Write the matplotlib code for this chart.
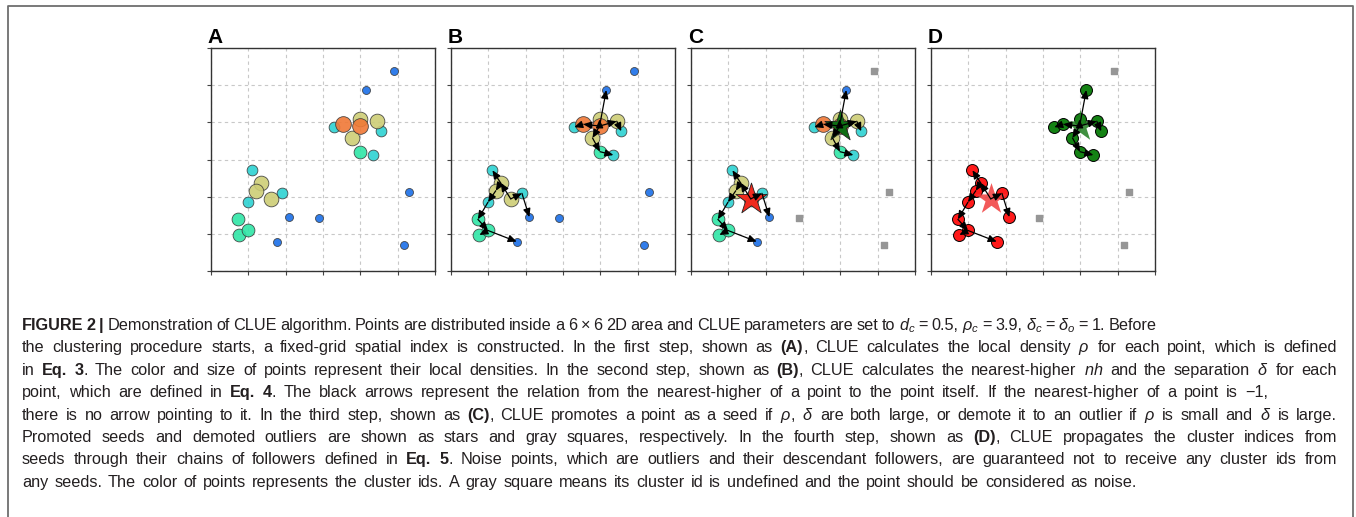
import re
import matplotlib
matplotlib.use('Agg')
import matplotlib.pyplot as plt
from matplotlib.lines import Line2D
from matplotlib.font_manager import FontProperties

plt.rcParams['font.family'] = ['Liberation Sans', 'DejaVu Sans']
plt.rcParams['mathtext.fontset'] = 'custom'
plt.rcParams['mathtext.rm'] = 'Liberation Sans'
plt.rcParams['mathtext.it'] = 'Liberation Sans:italic'
plt.rcParams['mathtext.bf'] = 'Liberation Sans:bold'

# point positions (data units, 6 x 6 area)
px = [4.89, 4.16, 5.31, 2.10, 2.89, 1.76, 5.16,
      3.30, 4.56, 4.35, 1.11, 1.90, 0.99,
      3.99, 0.72, 0.76, 0.99,
      3.98, 4.44, 3.79, 1.33, 1.20, 1.60,
      3.54, 3.98]
py = [5.38, 4.87, 2.13, 1.45, 1.42, 0.79, 0.69,
      3.87, 3.76, 3.12, 2.71, 2.09, 1.85,
      3.21, 1.39, 0.97, 1.09,
      4.08, 4.03, 3.58, 2.37, 2.16, 1.94,
      3.95, 3.90]
# density level of each point (0 = lowest)
level = [0, 0, 0, 0, 0, 0, 0,
         1, 1, 1, 1, 1, 1,
         2, 2, 2, 2,
         3, 3, 3, 3, 3, 3,
         4, 4]
# nearest-higher index (-1 = none)
nh = [-1, 24, -1, 11, -1, 16, -1,
      23, 18, 13, 20, 22, 21,
      19, 12, 16, 14,
      24, 24, 24, 22, 20, -1,
      24, -1]
# cluster id after propagation (-1 = noise)
cluster = [-1, 1, -1, 0, -1, 0, -1,
           1, 1, 1, 0, 0, 0,
           1, 0, 0, 0,
           1, 1, 1, 0, 0, 0,
           1, 1]
seeds = [22, 24]

level_colors = ['#1a6fe8', '#2dd2d2', '#30e6a6', '#cdcd76', '#f07836']
level_sizes = [33, 60, 85, 112, 128]
cluster_colors = ['#ff1a1a', '#148214']
star_colors_c = ['#f02a1e', '#0f6e14']
star_colors_d = ['#f03c3c', '#1e7d1e']

panel_letters = ['A', 'B', 'C', 'D']

caption = [
    "**FIGURE 2 |** Demonstration of CLUE algorithm. Points are distributed inside a 6 \u00d7 6 2D area and CLUE parameters are set to $d_c$ = 0.5, $\\rho_c$ = 3.9, $\\delta_c$ = $\\delta_o$ = 1. Before",
    "the clustering procedure starts, a fixed-grid spatial index is constructed. In the first step, shown as **(A)**, CLUE calculates the local density $\\rho$ for each point, which is defined",
    "in **Eq. 3**. The color and size of points represent their local densities. In the second step, shown as **(B)**, CLUE calculates the nearest-higher $nh$ and the separation $\\delta$ for each",
    "point, which are defined in **Eq. 4**. The black arrows represent the relation from the nearest-higher of a point to the point itself. If the nearest-higher of a point is \u22121,",
    "there is no arrow pointing to it. In the third step, shown as **(C)**, CLUE promotes a point as a seed if $\\rho$, $\\delta$ are both large, or demote it to an outlier if $\\rho$ is small and $\\delta$ is large.",
    "Promoted seeds and demoted outliers are shown as stars and gray squares, respectively. In the fourth step, shown as **(D)**, CLUE propagates the cluster indices from",
    "seeds through their chains of followers defined in **Eq. 5**. Noise points, which are outliers and their descendant followers, are guaranteed not to receive any cluster ids from",
    "any seeds. The color of points represents the cluster ids. A gray square means its cluster id is undefined and the point should be considered as noise.",
]
# right end (px) of each caption line in the original
line_ends = [1137, 1337, 1337, 1268, 1337, 1337, 1337, 1137]

W, H = 1356, 517
fig = plt.figure(figsize=(W / 100, H / 100), dpi=100)

# thin frame round the figure
fig.add_artist(Line2D([8 / W, 8 / W, 1353 / W, 1353 / W], [-0.01, 1 - 6 / H, 1 - 6 / H, -0.01],
                      transform=fig.transFigure, color='#6e6e6e', lw=1.3))


def setup(ax, letter):
    ax.set_xlim(0, 6)
    ax.set_ylim(0, 6)
    ax.set_xticks(range(7))
    ax.set_yticks(range(7))
    ax.set_xticklabels([])
    ax.set_yticklabels([])
    ax.grid(True, ls=(0, (3, 3)), color='#c8c8c8', lw=0.8)
    ax.set_axisbelow(True)
    ax.tick_params(length=3, width=0.8, color='#444444')
    for s in ax.spines.values():
        s.set_color('#333333')
        s.set_linewidth(1.0)
    ax.text(-0.014, 1.022, letter, transform=ax.transAxes, fontsize=15,
            fontweight='bold', ha='left', va='baseline')


def draw_arrows(ax):
    for i in range(len(px)):
        j = nh[i]
        if j < 0:
            continue
        ax.annotate('', xy=(px[i], py[i]), xytext=(px[j], py[j]),
                    arrowprops=dict(arrowstyle='-|>,head_length=0.5,head_width=0.22',
                                    color='black', lw=0.9, shrinkA=0, shrinkB=0),
                    zorder=5)


def draw_density(ax, skip_noise=False):
    for i in range(len(px)):
        if skip_noise and cluster[i] == -1:
            continue
        ax.scatter(px[i], py[i], s=level_sizes[level[i]], c=level_colors[level[i]],
                   edgecolors='#3a3a3a', linewidths=0.6, alpha=0.9, zorder=3)


def draw_noise(ax):
    nx = [px[i] for i in range(len(px)) if cluster[i] == -1]
    ny = [py[i] for i in range(len(py)) if cluster[i] == -1]
    ax.scatter(nx, ny, s=15, marker='s', c='#969696', zorder=3)


axes = []
for k in range(4):
    left = 211 + 240 * k
    ax = fig.add_axes([left / W, 246 / H, 224 / W, 223 / H])
    setup(ax, panel_letters[k])
    axes.append(ax)

# A: local density
draw_density(axes[0])

# B: nearest-higher arrows
draw_density(axes[1])
draw_arrows(axes[1])

# C: seeds and outliers
draw_density(axes[2], skip_noise=True)
draw_noise(axes[2])
for c, i in enumerate(seeds):
    axes[2].scatter(px[i], py[i], s=560, marker='*', c=star_colors_c[c],
                    edgecolors='#222222', linewidths=0.6, zorder=4)
draw_arrows(axes[2])

# D: cluster ids
for i in range(len(px)):
    if cluster[i] >= 0 and i not in seeds:
        axes[3].scatter(px[i], py[i], s=74, c=cluster_colors[cluster[i]],
                        edgecolors='black', linewidths=0.7, zorder=3)
draw_noise(axes[3])
for c, i in enumerate(seeds):
    axes[3].scatter(px[i], py[i], s=560, marker='*', c=star_colors_d[c],
                    alpha=0.85, linewidths=0, zorder=4)
draw_arrows(axes[3])

# caption, laid out word by word
renderer = fig.canvas.get_renderer()
cap_size = 11.7
reg = FontProperties(family='Liberation Sans', size=cap_size)
bold = FontProperties(family='Liberation Sans', weight='bold', size=cap_size)


def adv(text, style):
    if style == 'm':
        return renderer.get_text_width_height_descent(text, reg, ismath=True)[0]
    prop = bold if style == 'b' else reg
    w1 = renderer.get_text_width_height_descent('x' + text + 'x', prop, ismath=False)[0]
    w0 = renderer.get_text_width_height_descent('xx', prop, ismath=False)[0]
    return w1 - w0


def split_words(line):
    words = [[]]
    for part in re.split(r'(\*\*.*?\*\*|\$.*?\$)', line):
        if not part:
            continue
        if part.startswith('$'):
            words[-1].append((part, 'm'))
            continue
        style = 'r'
        if part.startswith('**'):
            style = 'b'
            part = part[2:-2]
        pieces = part.split(' ')
        for n, p in enumerate(pieces):
            if n > 0:
                words.append([])
            if p:
                words[-1].append((p, style))
    return [w for w in words if w]


space = adv(' ', 'r')
x0 = 22
for k, line in enumerate(caption):
    words = split_words(line)
    widths = [sum(adv(t, s) for t, s in w) for w in words]
    gap = (line_ends[k] - x0 - sum(widths)) / (len(words) - 1)
    # do not squeeze the words together too much
    gap = max(gap, 0.75 * space)
    x = x0
    yb = H - (330 + 22.4 * k)
    for w, ww in zip(words, widths):
        xs = x
        for t, s in w:
            fig.text(xs / W, yb / H, t, fontsize=cap_size, color='#231f20',
                     fontweight='bold' if s == 'b' else 'normal', va='baseline', ha='left')
            xs += adv(t, s)
        x += ww + gap

fig.savefig('out.png', dpi=100)
